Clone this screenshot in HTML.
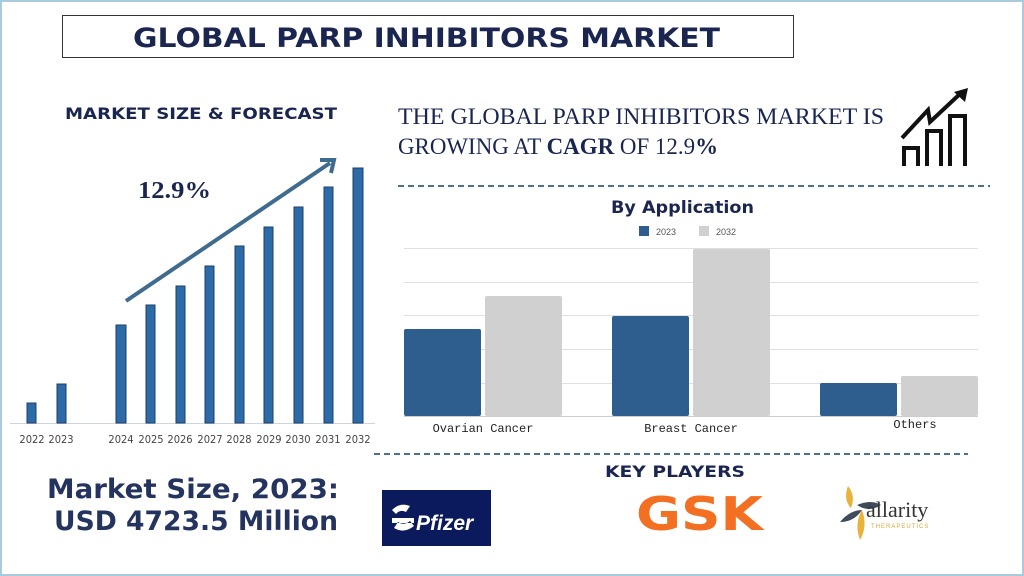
<!DOCTYPE html>
<html><head><meta charset="utf-8"><style>
html,body{margin:0;padding:0;background:#fff}
body{width:1024px;height:576px;overflow:hidden;position:relative;font-family:"Liberation Sans",sans-serif}
</style></head><body>
<svg width="1024" height="576" viewBox="0 0 1024 576" xmlns="http://www.w3.org/2000/svg" style="position:absolute;left:0;top:0">
<rect x="1" y="1" width="1022" height="574" fill="#fff" stroke="#a9cbdc" stroke-width="2"/>
<rect x="62.5" y="15.5" width="731" height="42" fill="#fff" stroke="#333" stroke-width="1"/>
<text x="133" y="47" font-family="DejaVu Sans" font-weight="bold" font-size="27" fill="#1a2550" textLength="587" lengthAdjust="spacingAndGlyphs">GLOBAL PARP INHIBITORS MARKET</text>
<text x="65" y="119" font-family="DejaVu Sans" font-weight="bold" font-size="16" fill="#1a2550" textLength="272" lengthAdjust="spacingAndGlyphs">MARKET SIZE &amp; FORECAST</text>
<!-- left chart -->
<line x1="10" y1="423.5" x2="375" y2="423.5" stroke="#cdd6e0" stroke-width="1"/>
<g fill="#2c6aa8" stroke="#1e3f66" stroke-width="1">
<rect x="27" y="403" width="9" height="20"/>
<rect x="57" y="384" width="9" height="39"/>
<rect x="116" y="325" width="10" height="98"/>
<rect x="146" y="305" width="9" height="118"/>
<rect x="176" y="286" width="9" height="137"/>
<rect x="205" y="266" width="9" height="157"/>
<rect x="235" y="246" width="9" height="177"/>
<rect x="264" y="227" width="9" height="196"/>
<rect x="294" y="207" width="9" height="216"/>
<rect x="324" y="187" width="9" height="236"/>
<rect x="353" y="168" width="10" height="255"/>
</g>
<g font-size="11" fill="#444" text-anchor="middle" font-family="DejaVu Sans Condensed, DejaVu Sans, sans-serif">
<text x="32" y="443">2022</text><text x="61" y="443">2023</text>
<text x="121" y="443">2024</text><text x="151" y="443">2025</text><text x="180" y="443">2026</text><text x="210" y="443">2027</text><text x="239" y="443">2028</text><text x="269" y="443">2029</text><text x="298" y="443">2030</text><text x="328" y="443">2031</text><text x="358" y="443">2032</text>
</g>
<line x1="126" y1="301" x2="330" y2="163" stroke="#3f6b8f" stroke-width="4"/>
<polyline points="320,160 334,160 331,173" fill="none" stroke="#3f6b8f" stroke-width="4"/>
<text x="138" y="198" font-family="Liberation Serif" font-weight="bold" font-size="24" fill="#1a2550" textLength="73" lengthAdjust="spacingAndGlyphs">12.9%</text>
<!-- headline -->
<text x="398" y="124" font-family="Liberation Serif" font-size="23" fill="#1a2550" textLength="486" lengthAdjust="spacingAndGlyphs">THE GLOBAL PARP INHIBITORS MARKET IS</text>
<text x="398" y="154" font-family="Liberation Serif" font-size="23" fill="#1a2550" textLength="320" lengthAdjust="spacingAndGlyphs">GROWING AT <tspan font-weight="bold">CAGR</tspan> OF 12.9<tspan font-weight="bold">%</tspan></text>
<!-- growth icon -->
<g fill="none" stroke="#111" stroke-width="4">
<path d="M904 166 V148 H918 V166"/><path d="M927 166 V131 H941 V166"/><path d="M950 166 V116 H965 V166"/>
<path d="M902 138 L928 110 L930 122 L962 92"/>
</g>
<polygon points="968,88 954,92 965,102" fill="#111"/>
<line x1="398" y1="186" x2="990" y2="186" stroke="#4a7190" stroke-width="2" stroke-dasharray="6,4"/>
<!-- right chart -->
<text x="611" y="213" font-family="DejaVu Sans" font-weight="bold" font-size="17" fill="#1a2550" textLength="143" lengthAdjust="spacingAndGlyphs">By Application</text>
<rect x="639" y="226" width="10" height="10" fill="#2e5e8e"/><text x="656" y="235" font-size="9" fill="#555">2023</text>
<rect x="699" y="226" width="10" height="10" fill="#d0d0d0"/><text x="716" y="235" font-size="9" fill="#555">2032</text>
<g stroke="#e0e0e0" stroke-width="1">
<line x1="404" y1="248.5" x2="978" y2="248.5"/><line x1="404" y1="282.5" x2="978" y2="282.5"/><line x1="404" y1="315.5" x2="978" y2="315.5"/><line x1="404" y1="349.5" x2="978" y2="349.5"/><line x1="404" y1="383.5" x2="978" y2="383.5"/>
</g>
<line x1="404" y1="416.5" x2="978" y2="416.5" stroke="#ccc"/>
<g fill="#2e5e8e"><rect x="404" y="329" width="77" height="87" rx="2"/><rect x="612" y="316" width="77" height="100" rx="2"/><rect x="820" y="383" width="77" height="33" rx="2"/></g>
<g fill="#d0d0d0"><rect x="485" y="296" width="77" height="120" rx="2"/><rect x="693" y="249" width="77" height="167" rx="2"/><rect x="901" y="376" width="77" height="40" rx="2"/></g>
<g font-family="Liberation Mono" font-size="12" fill="#222" text-anchor="middle">
<text x="483" y="432">Ovarian Cancer</text><text x="691" y="432">Breast Cancer</text><text x="915" y="428">Others</text>
</g>
<line x1="374" y1="454" x2="968" y2="454" stroke="#4a7190" stroke-width="2" stroke-dasharray="6,4"/>
<text x="605" y="477" font-family="DejaVu Sans" font-weight="bold" font-size="16" fill="#1a2550" textLength="140" lengthAdjust="spacingAndGlyphs">KEY PLAYERS</text>
<!-- Pfizer -->
<rect x="382" y="490" width="109" height="56" fill="#0b1a5c"/>
<path d="M392 510 q8 -8 18 -4 l-4 6 q-6 -3 -10 2z M394 528 q10 6 20 -2 l-4 -5 q-6 5 -12 1z M392 518 h22 v5 h-22z" fill="#fff"/>
<text x="416" y="530" font-style="italic" font-weight="bold" font-size="21" fill="#fff">Pfizer</text>
<!-- GSK -->
<text x="636" y="530" font-family="DejaVu Sans" font-weight="bold" font-size="46" fill="#f36f21" textLength="127" lengthAdjust="spacingAndGlyphs">GSK</text>
<!-- allarity -->
<path d="M848 486 q8 10 3 22 q-8 -8 -3 -22z" fill="#e8b33a"/>
<path d="M862 510 q-8 14 -2 30 q8 -14 2 -30z" fill="#e8b33a"/>
<path d="M840 522 q10 -12 22 -12 q-8 12 -22 12z" fill="#3f4a5a"/>
<path d="M857 505 q14 -6 24 0 q-12 8 -24 0z" fill="#3f4a5a"/>
<text x="866" y="517" font-family="Liberation Serif" font-size="22" fill="#333">allarity</text>
<text x="871" y="528" font-size="6" fill="#d9a93a" letter-spacing="1">THERAPEUTICS</text>
<!-- market size -->
<text x="47" y="498" font-family="DejaVu Sans" font-weight="bold" font-size="27" fill="#25345f" textLength="292" lengthAdjust="spacingAndGlyphs">Market Size, 2023:</text>
<text x="54" y="530" font-family="DejaVu Sans" font-weight="bold" font-size="27" fill="#25345f" textLength="284" lengthAdjust="spacingAndGlyphs">USD 4723.5 Million</text>
</svg>
</body></html>
